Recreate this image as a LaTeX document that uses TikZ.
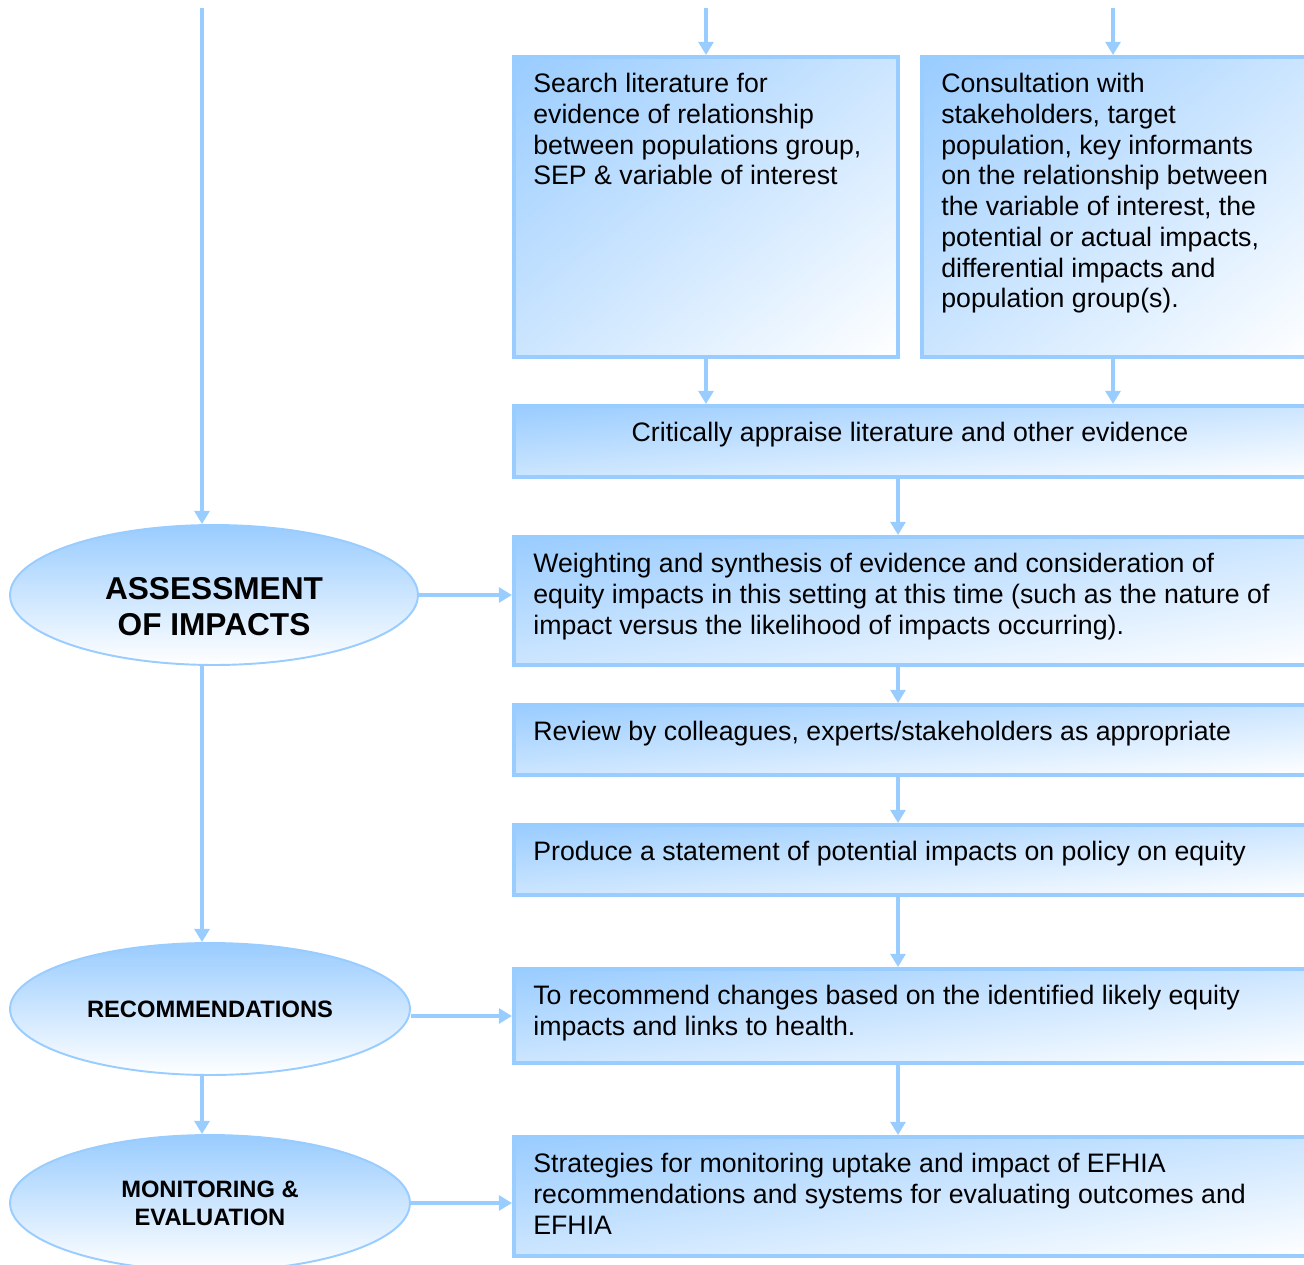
\documentclass[tikz,border=0pt]{standalone}
\usepackage{fontspec}
\setmainfont{Liberation Sans}
\usetikzlibrary{arrows.meta,shapes.geometric,fit,calc}
\definecolor{edgeblue}{HTML}{99CCFF}
\definecolor{shadeblue}{HTML}{99CCFF}
% blue in the top left corner, white in the bottom right one
\pgfdeclarefunctionalshading{boxshade}{\pgfpoint{-50bp}{-50bp}}{\pgfpoint{50bp}{50bp}}{}{
	sub 100 div 0.5 add
	dup 0 lt {pop 0} if dup 1 gt {pop 1} if
	dup 0.4 mul 0.6 add exch 0.2 mul 0.8 add 1
}

\begin{document}
\begin{tikzpicture}[x=0.02cm, y=-0.02cm,
	box/.style={draw=edgeblue, line width=2.3pt, inner sep=0pt, shade, shading=boxshade},
	oval/.style={ellipse, draw=edgeblue, line width=1.1pt, top color=shadeblue, bottom color=white, minimum width=8cm},
	txt/.style={inner sep=0pt, align=left, anchor=north west, font=\fontsize{15.2pt}{17.5pt}\selectfont},
	stage/.style={inner sep=0pt, align=center, font=\bfseries\fontsize{13.5pt}{16pt}\selectfont},
	flow/.style={draw=edgeblue, line width=2pt, -{Triangle[length=7.5pt,width=8.5pt]}}]
	\useasboundingbox (0,0) rectangle (1304,1264);
	\clip (0,0) rectangle (1304,1264);
	% boxes on the right
	\node[box, fit={(514,57) (898,357)}] (b1) {};
	\node[box, fit={(922,57) (1312,357)}] (b2) {};
	\node[box, fit={(514,406) (1312,477)}] (b3) {};
	\node[box, fit={(514,537) (1312,665)}] (b4) {};
	\node[box, fit={(514,705) (1312,775)}] (b5) {};
	\node[box, fit={(514,825) (1312,895)}] (b6) {};
	\node[box, fit={(514,969) (1312,1063)}] (b7) {};
	\node[box, fit={(514,1137) (1312,1256)}] (b8) {};
	\node[txt] (t1) at ($(b1.north west)+(21,18)$) {Search literature for\\evidence of relationship\\between populations group,\\SEP \& variable of interest};
	\node[txt] (t2) at ($(b2.north west)+(21,18)$) {Consultation with\\stakeholders, target\\population, key informants\\on the relationship between\\the variable of interest, the\\potential or actual impacts,\\differential impacts and\\population group(s).};
	\node[txt, anchor=north] (t3) at ($(b3.north)+(-3,18)$) {Critically appraise literature and other evidence};
	\node[txt] (t4) at ($(b4.north west)+(21,18)$) {Weighting and synthesis of evidence and consideration of\\equity impacts in this setting at this time (such as the nature of\\impact versus the likelihood of impacts occurring).};
	\node[txt] (t5) at ($(b5.north west)+(21,18)$) {Review by colleagues, experts/stakeholders as appropriate};
	\node[txt] (t6) at ($(b6.north west)+(21,18)$) {Produce a statement of potential impacts on policy on equity};
	\node[txt] (t7) at ($(b7.north west)+(21,18)$) {To recommend changes based on the identified likely equity\\impacts and links to health.};
	\node[txt] (t8) at ($(b8.north west)+(21,18)$) {Strategies for monitoring uptake and impact of EFHIA\\recommendations and systems for evaluating outcomes and\\EFHIA};
	% stages on the left
	\node[oval, minimum width=8.16cm, minimum height=2.8cm] (assess) at (214,595) {};
	\node[oval, minimum height=2.64cm] (recom) at (210,1009) {};
	\node[oval, minimum height=2.72cm] (mon) at (210,1203) {};
	\node[stage, font=\bfseries\fontsize{18pt}{20.5pt}\selectfont] (assesslbl) at (214,607) {ASSESSMENT\\OF IMPACTS};
	\node[stage] (recomlbl) at (recom) {RECOMMENDATIONS};
	\node[stage] (monlbl) at (mon) {MONITORING \&\\EVALUATION};
	\coordinate (lc) at (202,8);
	\coordinate (in1) at (706,8);
	\coordinate (in2) at (1113,8);
	\coordinate (mc) at (898,0);
	\draw[flow] (lc) -- (lc |- assess.north);
	\draw[flow] (assess.south -| lc) -- (recom.north -| lc);
	\draw[flow] (recom.south -| lc) -- (mon.north -| lc);
	\draw[flow] (assess.east) -- (assess.east -| b4.west);
	\draw[flow] (recom.east |- b7.west) -- (b7.west);
	\draw[flow] (mon.east) -- (mon.east -| b8.west);
	\draw[flow] (in1) -- (in1 |- b1.north);
	\draw[flow] (in2) -- (in2 |- b2.north);
	\draw[flow] (in1 |- b1.south) -- (in1 |- b3.north);
	\draw[flow] (in2 |- b2.south) -- (in2 |- b3.north);
	\foreach \a/\b in {b3/b4,b4/b5,b5/b6,b6/b7,b7/b8}
		\draw[flow] (mc |- \a.south) -- (mc |- \b.north);
\end{tikzpicture}
\end{document}
